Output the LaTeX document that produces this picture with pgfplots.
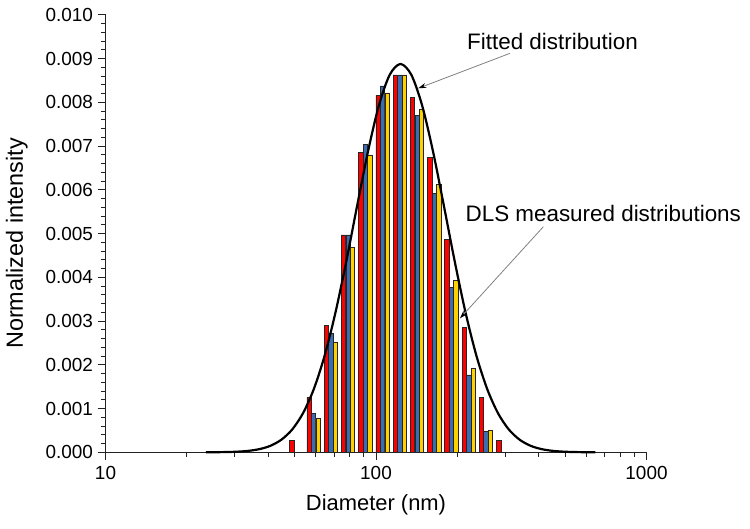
\documentclass[border=0pt]{standalone}
\usepackage{fontspec}
\setmainfont{Liberation Sans}
\usepackage{pgfplots}
\pgfplotsset{compat=1.18}
\usetikzlibrary{arrows.meta}
\definecolor{barred}{HTML}{FF0000}
\definecolor{barblue}{HTML}{3A6DB2}
\definecolor{baryellow}{HTML}{FFD000}
\definecolor{axisgray}{HTML}{222222}
\begin{document}
\begin{tikzpicture}
\useasboundingbox (0,0) rectangle (750bp,529bp);
\begin{axis}[
  at={(105.5bp,76.7bp)}, anchor=south west,
  scale only axis, width=541bp, height=437.3bp,
  xmode=log, xmin=10, xmax=1000, ymin=0, ymax=0.010,
  axis x line*=bottom, axis y line*=left,
  axis line style={axisgray, line width=1.3bp, -},
  every tick/.style={axisgray, line width=1bp},
  tick align=outside,
  major tick length=8bp, minor tick length=4.5bp,
  xtick={10,100,1000}, xticklabels={10,100,1000},
  ytick={0,0.001,...,0.0105}, minor y tick num=4,
  scaled y ticks=false,
  yticklabel style={/pgf/number format/fixed, /pgf/number format/fixed zerofill, /pgf/number format/precision=3, xshift=-1bp},
  /pgf/number format/assume math mode=true,
  tick label style={font=\fontsize{19}{22}\selectfont},
  xticklabel style={yshift=-2bp},
  xlabel={Diameter (nm)}, ylabel={Normalized intensity},
  xlabel style={font=\fontsize{22}{24}\selectfont, at={(axis description cs:0.5,-0.1205)}, anchor=center},
  ylabel style={font=\fontsize{23.5}{26}\selectfont, at={(axis description cs:-0.1641,0.4777)}, anchor=center},
  clip=false,
]
% red series
\addplot[ybar, bar width=4.4bp, bar shift=-4.5bp, fill=barred, draw=black!85, line width=0.55bp] coordinates {
(50.75,0.00028) (58.77,0.00126) (68.06,0.00291) (78.82,0.00497) (91.28,0.00685)
(105.7,0.00817) (122.4,0.00863) (141.8,0.00811) (164.2,0.00675) (190.1,0.00487)
(220.2,0.00285) (255.0,0.00125) (295.3,0.00028)};
% blue series
\addplot[ybar, bar width=4.4bp, bar shift=0bp, fill=barblue, draw=black!85, line width=0.55bp] coordinates {
(58.77,0.00089) (68.06,0.00272) (78.82,0.00497) (91.28,0.00705)
(105.7,0.00838) (122.4,0.00863) (141.8,0.00770) (164.2,0.00592) (190.1,0.00377)
(220.2,0.00177) (255.0,0.00047)};
% yellow series
\addplot[ybar, bar width=4.4bp, bar shift=4.5bp, fill=baryellow, draw=black!85, line width=0.55bp] coordinates {
(58.77,0.00078) (68.06,0.00251) (78.82,0.00468) (91.28,0.00680)
(105.7,0.00822) (122.4,0.00863) (141.8,0.00784) (164.2,0.00613) (190.1,0.00394)
(220.2,0.00192) (255.0,0.00051)};
% fitted distribution
\addplot[black, line width=2.2bp, smooth, tension=0.5, mark=none] coordinates {
(23.476,0.0000009) (25.741,0.0000025) (28.224,0.0000064) (30.947,0.0000153)
(33.932,0.0000348) (37.206,0.0000746) (40.796,0.0001514) (44.731,0.000290)
(49.047,0.000525) (53.779,0.000899) (58.967,0.001454) (64.656,0.002221)
(70.894,0.003208) (77.734,0.004379) (85.234,0.005648) (93.457,0.006885)
(102.474,0.007930) (112.360,0.008632) (123.2,0.00888) (135.09,0.008632)
(148.12,0.007930) (162.41,0.006885) (178.08,0.005648) (195.26,0.004379)
(214.10,0.003208) (234.76,0.002221) (257.41,0.001454) (282.24,0.000899)
(309.47,0.000525) (339.33,0.000290) (372.07,0.0001514) (407.97,0.0000746)
(447.33,0.0000348) (490.49,0.0000153) (537.81,0.0000064) (589.70,0.0000025)
(646.59,0.0000009)};
% annotations
\node[font=\fontsize{22.5}{25}\selectfont, anchor=center] at (axis cs:449.3,0.00939) {Fitted distribution};
\draw[gray, line width=0.8bp, -{Stealth[color=black, length=8bp, width=5bp]}] (axis cs:312.9,0.009124) -- (axis cs:143.3,0.008324);
\node[font=\fontsize{22.5}{25}\selectfont, anchor=center] at (axis cs:692.2,0.005465) {DLS measured distributions};
\draw[gray, line width=0.8bp, -{Stealth[color=black, length=8bp, width=5bp]}] (axis cs:415.6,0.005159) -- (axis cs:204.4,0.003064);
\end{axis}
\end{tikzpicture}
\end{document}
